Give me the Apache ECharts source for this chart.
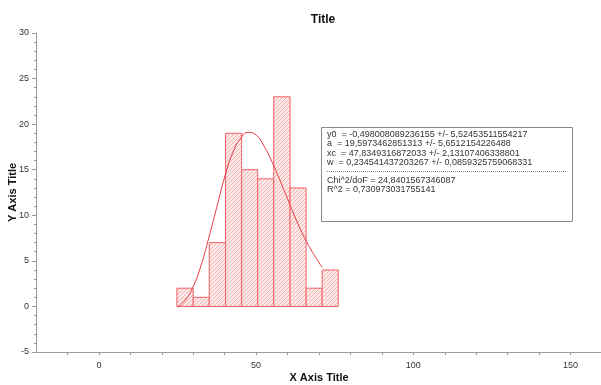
<!DOCTYPE html>
<html>
<head>
<meta charset="utf-8">
<script src="https://cdn.jsdelivr.net/npm/echarts@6/dist/echarts.min.js"></script>
<style>
  html, body { margin: 0; padding: 0; background: #fff; }
  #main { width: 601px; height: 385px; }
</style>
</head>
<body>
<div id="main"></div>
<script>
// histogram bin edges and counts
var binEdges = [24.8, 30.0, 35.1, 40.3, 45.4, 50.5, 55.6, 60.8, 65.9, 71.0, 76.1];
var counts = [2, 1, 7, 19, 15, 14, 23, 13, 2, 4];

// fitted curve
var fitX = [25, 27.5, 30, 32.5, 35, 37.5, 40, 42.5, 45, 47.5, 50, 52.5, 55, 57.5, 60, 62.5, 65, 67.5, 70, 71];
var fitY = [-0.1, 0.7, 2.2, 4.5, 7.6, 10.9, 14.2, 16.8, 18.4, 19.1, 18.8, 17.6, 15.9, 13.9, 11.8, 9.7, 7.8, 6.2, 4.8, 4.3];

var xTicks = [-10, 0, 10, 20, 30, 40, 50, 60, 70, 80, 90, 100, 110, 120, 130, 140, 150];
var xLabels = [0, 50, 100, 150];

var fitText = [
    'y0  = -0,498008089236155 +/- 5,52453511554217',
    'a  = 19,5973462851313 +/- 5,6512154226488',
    'xc  = 47,8349316872033 +/- 2,13107406338801',
    'w  = 0,234541437203267 +/- 0,0859325759068331'
];
var statText = [
    'Chi^2/doF = 24,8401567346087',
    'R^2 = 0,730973031755141'
];

var font = 'Liberation Sans';

// hatch pattern
var pat = document.createElement('canvas');
pat.width = 4;
pat.height = 4;
var ctx = pat.getContext('2d');
ctx.fillStyle = '#fee9e9';
ctx.fillRect(0, 0, 4, 4);
ctx.strokeStyle = '#f5b2b3';
ctx.lineWidth = 1;
ctx.beginPath();
ctx.moveTo(-1, 5); ctx.lineTo(5, -1);
ctx.moveTo(-1, 1); ctx.lineTo(1, -1);
ctx.moveTo(3, 5); ctx.lineTo(5, 3);
ctx.stroke();

var histData = counts.map(function (c, i) { return [binEdges[i], binEdges[i + 1], c]; });
var fitData = fitX.map(function (x, i) { return [x, fitY[i]]; });

var chart = echarts.init(document.getElementById('main'));

var graphics = [{
    type: 'rect',
    shape: { x: 321.5, y: 127.5, width: 251, height: 94 },
    style: { fill: '#fff', stroke: '#8a8a8a', lineWidth: 1 },
    z: 100
}];
fitText.forEach(function (t, i) {
    graphics.push({
        type: 'text', x: 327, y: 134.5 + i * 9.3, z: 101,
        style: { text: t, fontFamily: font, fontSize: 9, fill: '#333', verticalAlign: 'middle' }
    });
});
graphics.push({
    type: 'line', z: 101,
    shape: { x1: 327, y1: 171.5, x2: 567, y2: 171.5 },
    style: { stroke: '#888', lineWidth: 1, lineDash: [1, 1] }
});
statText.forEach(function (t, i) {
    graphics.push({
        type: 'text', x: 327, y: 180.5 + i * 9.3, z: 101,
        style: { text: t, fontFamily: font, fontSize: 9, fill: '#333', verticalAlign: 'middle' }
    });
});

var option = {
    animation: false,
    backgroundColor: '#fff',
    title: {
        text: 'Title',
        left: 318,
        top: 9,
        textAlign: 'center',
        textStyle: { fontFamily: font, fontSize: 12, fontWeight: 'bold', color: '#111' }
    },
    grid: { left: 36, right: -1, top: 33, bottom: 33, containLabel: false, outerBoundsMode: 'none' },
    xAxis: {
        type: 'value',
        min: -20,
        max: 160,
        interval: 50,
        name: 'X Axis Title',
        nameLocation: 'middle',
        nameGap: 20,
        nameMoveOverlap: false,
        nameTextStyle: { fontFamily: font, fontSize: 11, fontWeight: 'bold', color: '#111' },
        axisLine: { onZero: false, lineStyle: { color: '#999' } },
        axisTick: { show: true, length: 3, lineStyle: { color: '#999' }, customValues: xTicks },
        axisLabel: { fontFamily: font, fontSize: 9, color: '#333', margin: 9, customValues: xLabels },
        splitLine: { show: false }
    },
    yAxis: {
        type: 'value',
        min: -5,
        max: 30,
        interval: 5,
        name: 'Y Axis Title',
        nameLocation: 'middle',
        nameGap: 18,
        nameMoveOverlap: false,
        nameTextStyle: { fontFamily: font, fontSize: 11, fontWeight: 'bold', color: '#111' },
        axisLine: { show: true, onZero: false, lineStyle: { color: '#999' } },
        axisTick: { show: true, length: 4, lineStyle: { color: '#999' } },
        minorTick: { show: true, splitNumber: 5, length: 2, lineStyle: { color: '#999' } },
        axisLabel: { fontFamily: font, fontSize: 9, color: '#333', margin: 7 },
        splitLine: { show: false }
    },
    series: [{
        type: 'custom',
        data: histData,
        encode: { x: [0, 1], y: 2 },
        renderItem: function (params, api) {
            var p0 = api.coord([api.value(0), api.value(2)]);
            var p1 = api.coord([api.value(1), 0]);
            return {
                type: 'rect',
                shape: { x: p0[0], y: p0[1], width: p1[0] - p0[0], height: p1[1] - p0[1] },
                style: { fill: { image: pat, repeat: 'repeat' }, stroke: '#ef6064', lineWidth: 1 }
            };
        }
    }, {
        type: 'line',
        data: fitData,
        smooth: true,
        showSymbol: false,
        lineStyle: { color: '#e63a3f', width: 1 },
        z: 5
    }],
    graphic: graphics
};

chart.setOption(option);
</script>
</body>
</html>
